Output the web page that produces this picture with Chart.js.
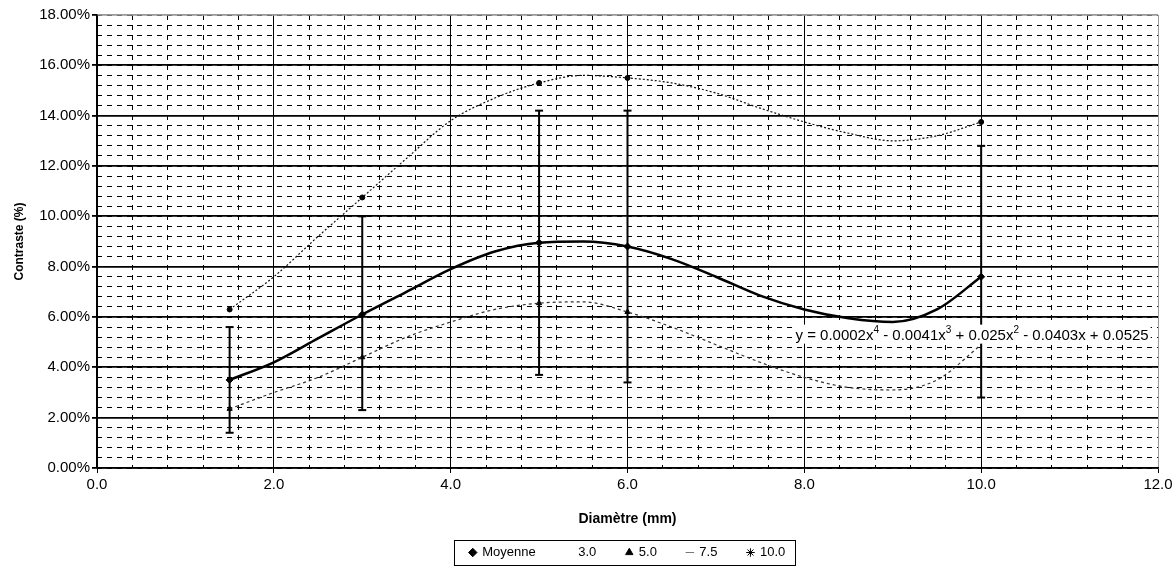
<!DOCTYPE html>
<html>
<head>
<meta charset="utf-8">
<script src="https://cdn.jsdelivr.net/npm/chart.js@4.4.1/dist/chart.umd.min.js"></script>
<style>
  html, body { margin: 0; padding: 0; background: #fff; }
  #wrap { width: 1176px; height: 569px; }
</style>
</head>
<body>
<div id="wrap"><canvas id="myChart" width="1176" height="569"></canvas></div>
<script>
// points mesures (diametre en mm, contraste en %)
const gDiametres = [1.5, 3.0, 5.0, 6.0, 10.0]
const gMoyenne = [3.5, 6.1, 8.95, 8.8, 7.6]
const gHaut = [6.3, 10.75, 15.3, 15.5, 13.75]
const gBas = [2.35, 4.4, 6.55, 6.2, 4.9]
const gErreurMin = [1.4, 2.3, 3.7, 3.4, 2.8]
const gErreurMax = [5.6, 10.0, 14.2, 14.2, 12.8]

// courbes de tendance
const gTendanceX = [1.5, 2.0, 2.5, 3.0, 3.5, 4.0, 4.5, 5.0, 5.5, 6.0, 6.5, 7.0, 7.5, 8.0, 8.5, 9.0, 9.5, 10.0]
const gTendanceHaut = [6.3, 7.6, 9.2, 10.75, 12.3, 13.8, 14.7, 15.3, 15.6, 15.5, 15.3, 14.9, 14.3, 13.75, 13.3, 13.0, 13.2, 13.75]
const gTendanceMoy = [3.5, 4.2, 5.15, 6.1, 7.0, 7.9, 8.6, 8.95, 9.0, 8.8, 8.3, 7.6, 6.85, 6.3, 5.95, 5.8, 6.3, 7.6]
const gTendanceBas = [2.35, 3.0, 3.6, 4.4, 5.2, 5.8, 6.3, 6.55, 6.6, 6.2, 5.6, 4.9, 4.2, 3.6, 3.2, 3.1, 3.5, 4.9]

const gLegende = ['Moyenne', '3.0', '5.0', '7.5', '10.0']
const gXTicks = [0, 2, 4, 6, 8, 10, 12]
const gYTicks = [0, 2, 4, 6, 8, 10, 12, 14, 16, 18]
const gEquation = [
  ['y = 0.0002x', false], ['4', true], [' - 0.0041x', false], ['3', true],
  [' + 0.025x', false], ['2', true], [' - 0.0403x + 0.0525', false]
]

const gFont = '"Liberation Sans", Arial, sans-serif'

function toPoints(xs, ys) {
  return xs.map((x, i) => ({ x: x, y: ys[i] }))
}

function errorBarPoints() {
  let pts = []
  gDiametres.forEach((x, i) => {
    pts.push({ x: x, y: gErreurMin[i] })
    pts.push({ x: x, y: gErreurMax[i] })
    pts.push({ x: x, y: null })
  })
  return pts
}

// cadre de la legende + equation de la tendance
const gDecorPlugin = {
  id: 'decor',
  afterDraw(chart) {
    const ctx = chart.ctx
    const boxes = chart.legend.legendHitBoxes
    if (boxes && boxes.length) {
      const left = Math.min(...boxes.map(b => b.left)) - 16
      const right = Math.max(...boxes.map(b => b.left + b.width)) + 10
      const top = boxes[0].top - 6
      const bottom = boxes[0].top + boxes[0].height + 6
      ctx.save()
      ctx.strokeStyle = '#000'
      ctx.lineWidth = 1
      ctx.strokeRect(Math.round(left) + 0.5, Math.round(top) + 0.5, Math.round(right - left), Math.round(bottom - top))
      ctx.restore()
    }

    const xs = chart.scales.x
    const ys = chart.scales.y
    const x0 = xs.getPixelForValue(7.9)
    const py = ys.getPixelForValue(5.1)
    ctx.save()
    let w = 0
    gEquation.forEach(part => {
      ctx.font = part[1] ? `10px ${gFont}` : `15px ${gFont}`
      w += ctx.measureText(part[0]).width
    })
    ctx.fillStyle = '#fff'
    ctx.fillRect(x0 - 2, py - 15, w + 4, 19)
    ctx.fillStyle = '#000'
    ctx.textBaseline = 'alphabetic'
    ctx.textAlign = 'left'
    let px = x0
    gEquation.forEach(part => {
      ctx.font = part[1] ? `10px ${gFont}` : `15px ${gFont}`
      ctx.fillText(part[0], px, part[1] ? py - 7 : py)
      px += ctx.measureText(part[0]).width
    })
    ctx.restore()
  }
}

function displayChart() {
  const ctx = document.getElementById('myChart').getContext('2d')
  new Chart(ctx, {
    type: 'scatter',
    data: {
      datasets: [
        {
          label: '_erreurs',
          data: errorBarPoints(),
          showLine: true,
          spanGaps: false,
          borderColor: '#000',
          borderWidth: 2,
          pointStyle: 'line',
          pointRadius: 4,
          pointBorderWidth: 2,
          pointBorderColor: '#000'
        },
        {
          label: '_tendanceHaut',
          data: toPoints(gTendanceX, gTendanceHaut),
          showLine: true,
          borderColor: '#111',
          borderWidth: 1.2,
          borderDash: [2, 2],
          pointRadius: 0,
          cubicInterpolationMode: 'monotone'
        },
        {
          label: '_tendanceMoy',
          data: toPoints(gTendanceX, gTendanceMoy),
          showLine: true,
          borderColor: '#000',
          borderWidth: 2.5,
          pointRadius: 0,
          cubicInterpolationMode: 'monotone'
        },
        {
          label: '_tendanceBas',
          data: toPoints(gTendanceX, gTendanceBas),
          showLine: true,
          borderColor: '#333',
          borderWidth: 1.2,
          borderDash: [3, 3],
          pointRadius: 0,
          cubicInterpolationMode: 'monotone'
        },
        {
          label: gLegende[0],
          data: toPoints(gDiametres, gMoyenne),
          pointStyle: 'rectRot',
          pointRadius: 3.5,
          backgroundColor: '#000',
          borderColor: '#000'
        },
        {
          label: gLegende[1],
          data: toPoints(gDiametres, gHaut),
          pointStyle: 'circle',
          pointRadius: 2.5,
          backgroundColor: '#000',
          borderColor: '#000'
        },
        {
          label: gLegende[2],
          data: toPoints(gDiametres.slice(0, 4), gBas.slice(0, 4)),
          pointStyle: 'triangle',
          pointRadius: 3,
          backgroundColor: '#000',
          borderColor: '#000'
        },
        {
          label: gLegende[3],
          data: [],
          pointStyle: 'line',
          backgroundColor: '#777',
          borderColor: '#777'
        },
        {
          label: gLegende[4],
          data: [],
          pointStyle: 'star',
          backgroundColor: '#000',
          borderColor: '#000'
        }
      ]
    },
    options: {
      responsive: false,
      animation: false,
      layout: { padding: { left: 0, right: 18, top: 15, bottom: 0 } },
      scales: {
        xMinor: {
          type: 'linear', position: 'bottom', min: 0, max: 12, z: -1,
          ticks: { display: false, stepSize: 0.4 },
          grid: { color: '#000', lineWidth: 1, drawTicks: false },
          border: { display: false, dash: [5, 5] },
          afterFit(scale) { scale.height = 0 }
        },
        yMinor: {
          type: 'linear', position: 'left', min: 0, max: 18, z: -1,
          ticks: { display: false, stepSize: 0.4 },
          grid: { color: '#000', lineWidth: 1, drawTicks: false },
          border: { display: false, dash: [5, 5] },
          afterFit(scale) { scale.width = 0 }
        },
        x: {
          type: 'linear', position: 'bottom', min: 0, max: 12,
          afterBuildTicks(scale) { scale.ticks = gXTicks.map(v => ({ value: v })) },
          ticks: {
            color: '#000', padding: 3,
            font: { size: 15, family: gFont },
            callback: v => v.toFixed(1)
          },
          grid: {
            color: c => (c.tick && c.tick.value === 12) ? '#999' : '#000',
            lineWidth: 1, tickLength: 5, tickColor: '#000'
          },
          border: { display: true, color: '#000', width: 1.5 },
          title: {
            display: true, text: 'Diamètre (mm)', color: '#000',
            font: { size: 14, weight: 'bold', family: gFont },
            padding: { top: 0, bottom: -12 }
          },
          afterFit(scale) { scale.height = 48 }
        },
        y: {
          type: 'linear', position: 'left', min: 0, max: 18,
          afterBuildTicks(scale) { scale.ticks = gYTicks.map(v => ({ value: v })) },
          ticks: {
            color: '#000', padding: 2,
            font: { size: 15, family: gFont },
            callback: v => v.toFixed(2) + '%'
          },
          grid: {
            color: c => (c.tick && c.tick.value === 18) ? '#999' : '#000',
            lineWidth: 1.8, tickLength: 5, tickColor: '#000'
          },
          border: { display: true, color: '#000', width: 1.5 },
          title: {
            display: true, text: 'Contraste (%)', color: '#000',
            font: { size: 12, weight: 'bold', family: gFont },
            padding: { top: 12, bottom: 0 }
          },
          afterFit(scale) { scale.width = 97 }
        }
      },
      plugins: {
        legend: {
          position: 'bottom',
          fullSize: false,
          labels: {
            color: '#000',
            font: { size: 13, family: gFont },
            usePointStyle: true,
            boxWidth: 6,
            boxHeight: 6,
            padding: 30,
            filter: item => !item.text.startsWith('_'),
            generateLabels(chart) {
              const items = Chart.defaults.plugins.legend.labels.generateLabels(chart)
              items.forEach(item => {
                if (item.text === gLegende[1]) {
                  item.fillStyle = 'rgba(0,0,0,0)'
                  item.strokeStyle = 'rgba(0,0,0,0)'
                }
              })
              return items
            }
          }
        },
        tooltip: { enabled: false }
      }
    },
    plugins: [gDecorPlugin]
  })
}

displayChart()
</script>
</body>
</html>
